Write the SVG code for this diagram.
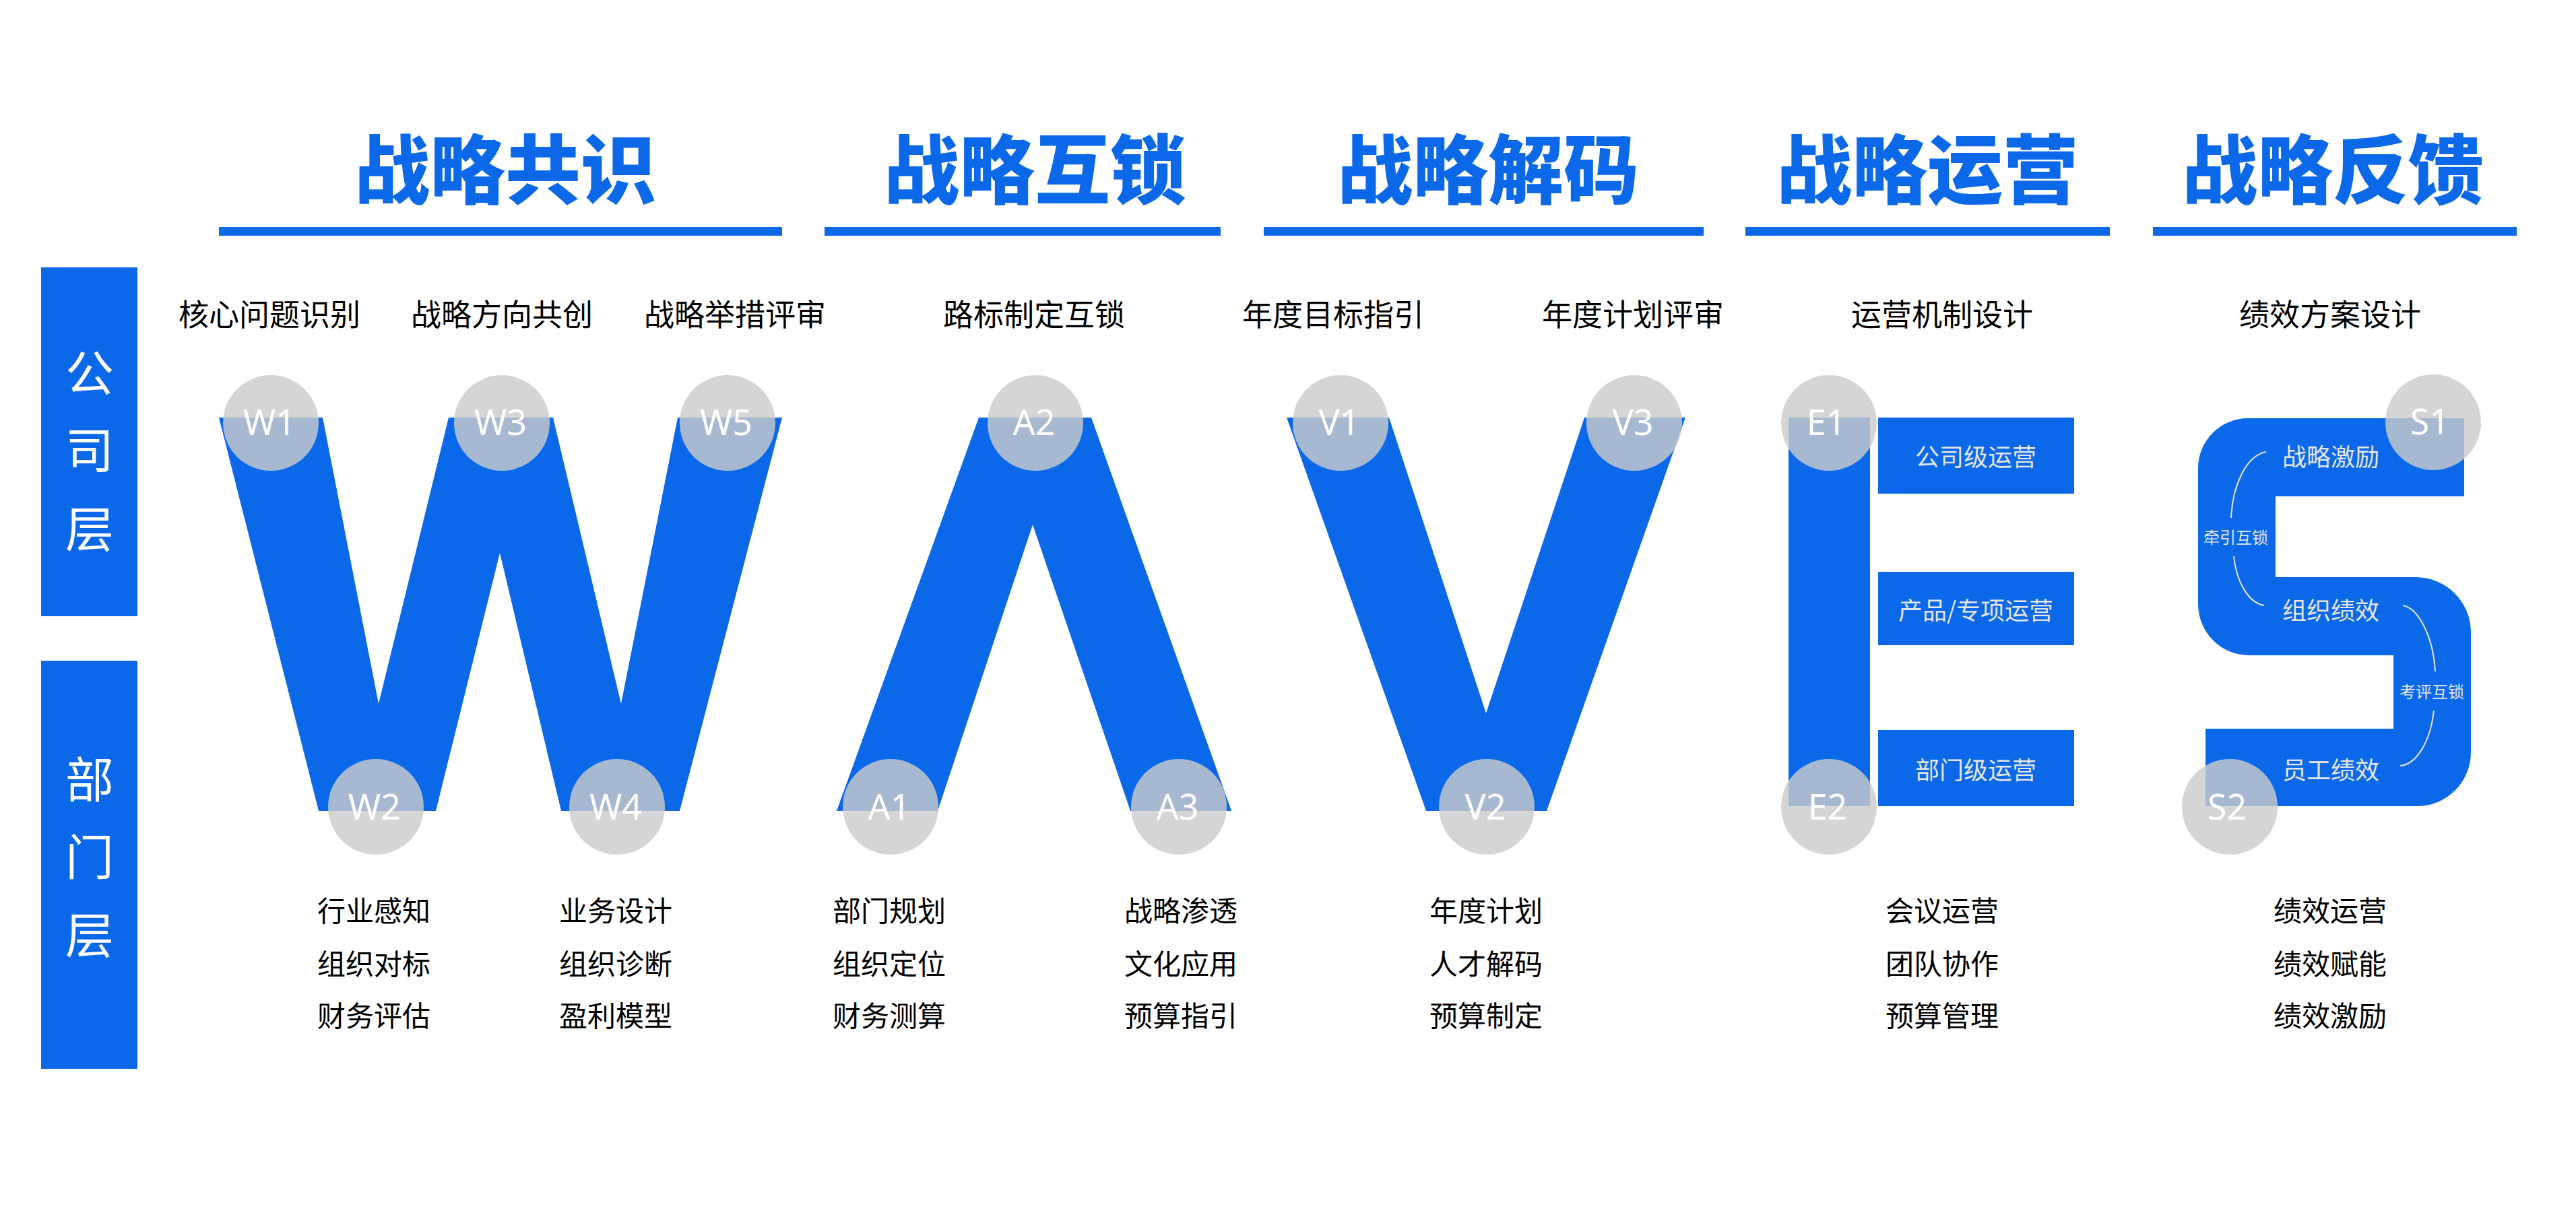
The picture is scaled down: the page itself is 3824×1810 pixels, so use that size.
<svg xmlns="http://www.w3.org/2000/svg" width="3824" height="1810" viewBox="0 0 3824 1810">
<style>
.bg{fill:#ffffff}
.blue{fill:#0b69e9}
.title{font-family:"Noto Sans CJK SC","Noto Sans CJK JP",sans-serif;font-weight:900;font-size:112px;fill:#0b69e9;text-anchor:middle}
.side{font-family:"Noto Sans CJK SC",sans-serif;font-size:72px;fill:#ffffff;text-anchor:middle}
.top{font-family:"Noto Sans CJK SC",sans-serif;font-size:45px;fill:#000000;text-anchor:middle}
.bot{font-family:"Noto Sans CJK SC",sans-serif;font-size:42px;fill:#000000;text-anchor:middle}
.inner{font-family:"Noto Sans CJK SC",sans-serif;font-size:36px;fill:#e6e6e6;text-anchor:middle}
.small{font-family:"Noto Sans CJK SC",sans-serif;font-size:24px;fill:#e6e6e6;text-anchor:middle}
.dot{fill:#cbcbcb;fill-opacity:0.81}
.dl{font-family:"Noto Sans","DejaVu Sans",sans-serif;font-size:52px;fill:#ffffff;text-anchor:middle}
.arc{fill:none;stroke:#e6e6e6;stroke-width:2}
</style>
<rect class="bg" x="0" y="0" width="3824" height="1810"/>

<g id="titles">
  <text class="title" x="750" y="294">战略共识</text>
  <rect class="blue" x="325" y="337" width="836" height="13"/>
  <text class="title" x="1536" y="294">战略互锁</text>
  <rect class="blue" x="1224" y="337" width="588" height="13"/>
  <text class="title" x="2209" y="294">战略解码</text>
  <rect class="blue" x="1876" y="337" width="653" height="13"/>
  <text class="title" x="2861" y="294">战略运营</text>
  <rect class="blue" x="2591" y="337" width="541" height="13"/>
  <text class="title" x="3463" y="294">战略反馈</text>
  <rect class="blue" x="3196" y="337" width="540" height="13"/>
</g>

<g id="layer-company">
  <rect class="blue" x="61" y="397" width="143" height="518"/>
  <text class="side" x="133" y="580">公</text>
  <text class="side" x="133" y="695">司</text>
  <text class="side" x="133" y="812">层</text>
</g>
<g id="layer-dept">
  <rect class="blue" x="61" y="981" width="143" height="606"/>
  <text class="side" x="133" y="1184">部</text>
  <text class="side" x="133" y="1299">门</text>
  <text class="side" x="133" y="1415">层</text>
</g>

<g id="top-labels">
  <text class="top" x="400" y="484">核心问题识别</text>
  <text class="top" x="745" y="484">战略方向共创</text>
  <text class="top" x="1091" y="484">战略举措评审</text>
  <text class="top" x="1535" y="484">路标制定互锁</text>
  <text class="top" x="1979" y="484">年度目标指引</text>
  <text class="top" x="2424" y="484">年度计划评审</text>
  <text class="top" x="2883" y="484">运营机制设计</text>
  <text class="top" x="3459" y="484">绩效方案设计</text>
</g>

<g id="shape-W">
  <polygon class="blue" points="325,620 479,620 562,1045 666,620 821,620 922,1045 1006,620 1161,620 1009,1204 833,1204 742,821 647,1204 473,1204"/>
</g>
<g id="shape-A">
  <polygon class="blue" points="1242,1204 1453,620 1620,620 1828,1204 1678,1204 1533,779 1392,1204"/>
</g>
<g id="shape-V">
  <polygon class="blue" points="1910,620 2062,620 2206,1059 2352,620 2502,620 2296,1204 2117,1204"/>
</g>
<g id="shape-E">
  <rect class="blue" x="2655" y="620" width="121" height="577"/>
  <rect class="blue" x="2788" y="620" width="291" height="113"/>
  <rect class="blue" x="2788" y="849" width="291" height="109"/>
  <rect class="blue" x="2788" y="1084" width="291" height="113"/>
  <text class="inner" x="2933" y="692">公司级运营</text>
  <text class="inner" x="2933" y="920">产品/专项运营</text>
  <text class="inner" x="2933" y="1157">部门级运营</text>
</g>
<g id="shape-S">
  <path class="blue" d="M3658,621 L3337,621 A74,74 0 0 0 3263,695 L3263,897 A76,76 0 0 0 3339,973 L3553,973 L3553,1082 L3274,1082 L3274,1197 L3588,1197 A80,80 0 0 0 3668,1117 L3668,939 A82,82 0 0 0 3586,857 L3378,857 L3378,737 L3658,737 Z"/>
  <text class="inner" x="3460" y="692">战略激励</text>
  <text class="inner" x="3460" y="920">组织绩效</text>
  <text class="inner" x="3460" y="1157">员工绩效</text>
  <text class="small" x="3319" y="807">牵引互锁</text>
  <text class="small" x="3610" y="1036">考评互锁</text>
</g>

<g id="connectors">
  <path class="arc" d="M3364,671 C3335,676 3314,720 3312,769"/>
  <path class="arc" d="M3316,826 C3320,865 3338,895 3361,899"/>
  <path class="arc" d="M3567,899 C3590,903 3612,945 3615,997"/>
  <path class="arc" d="M3613,1055 C3608,1100 3588,1135 3563,1137"/>
</g>

<g id="node-W1"><circle class="dot" cx="402" cy="628" r="71"/><text class="dl" x="400" y="646">W1</text></g>
<g id="node-W2"><circle class="dot" cx="558" cy="1198" r="71"/><text class="dl" x="556" y="1217">W2</text></g>
<g id="node-W3"><circle class="dot" cx="745" cy="628" r="71"/><text class="dl" x="743" y="646">W3</text></g>
<g id="node-W4"><circle class="dot" cx="916" cy="1198" r="71"/><text class="dl" x="914" y="1217">W4</text></g>
<g id="node-W5"><circle class="dot" cx="1080" cy="628" r="71"/><text class="dl" x="1078" y="646">W5</text></g>
<g id="node-A1"><circle class="dot" cx="1322" cy="1198" r="71"/><text class="dl" x="1320" y="1217">A1</text></g>
<g id="node-A2"><circle class="dot" cx="1537" cy="628" r="71"/><text class="dl" x="1535" y="646">A2</text></g>
<g id="node-A3"><circle class="dot" cx="1750" cy="1198" r="71"/><text class="dl" x="1748" y="1217">A3</text></g>
<g id="node-V1"><circle class="dot" cx="1990" cy="628" r="71"/><text class="dl" x="1988" y="646">V1</text></g>
<g id="node-V2"><circle class="dot" cx="2207" cy="1198" r="71"/><text class="dl" x="2205" y="1217">V2</text></g>
<g id="node-V3"><circle class="dot" cx="2426" cy="628" r="71"/><text class="dl" x="2424" y="646">V3</text></g>
<g id="node-E1"><circle class="dot" cx="2715" cy="628" r="71"/><text class="dl" x="2711" y="646">E1</text></g>
<g id="node-E2"><circle class="dot" cx="2715" cy="1198" r="71"/><text class="dl" x="2713" y="1217">E2</text></g>
<g id="node-S1"><circle class="dot" cx="3612" cy="627" r="71"/><text class="dl" x="3607" y="645">S1</text></g>
<g id="node-S2"><circle class="dot" cx="3310" cy="1198" r="71"/><text class="dl" x="3306" y="1217">S2</text></g>

<g id="bottom-labels">
  <text class="bot" x="555" y="1368">行业感知</text>
  <text class="bot" x="555" y="1447">组织对标</text>
  <text class="bot" x="555" y="1524">财务评估</text>
  <text class="bot" x="914" y="1368">业务设计</text>
  <text class="bot" x="914" y="1447">组织诊断</text>
  <text class="bot" x="914" y="1524">盈利模型</text>
  <text class="bot" x="1320" y="1368">部门规划</text>
  <text class="bot" x="1320" y="1447">组织定位</text>
  <text class="bot" x="1320" y="1524">财务测算</text>
  <text class="bot" x="1753" y="1368">战略渗透</text>
  <text class="bot" x="1753" y="1447">文化应用</text>
  <text class="bot" x="1753" y="1524">预算指引</text>
  <text class="bot" x="2206" y="1368">年度计划</text>
  <text class="bot" x="2206" y="1447">人才解码</text>
  <text class="bot" x="2206" y="1524">预算制定</text>
  <text class="bot" x="2883" y="1368">会议运营</text>
  <text class="bot" x="2883" y="1447">团队协作</text>
  <text class="bot" x="2883" y="1524">预算管理</text>
  <text class="bot" x="3459" y="1368">绩效运营</text>
  <text class="bot" x="3459" y="1447">绩效赋能</text>
  <text class="bot" x="3459" y="1524">绩效激励</text>
</g>
</svg>
